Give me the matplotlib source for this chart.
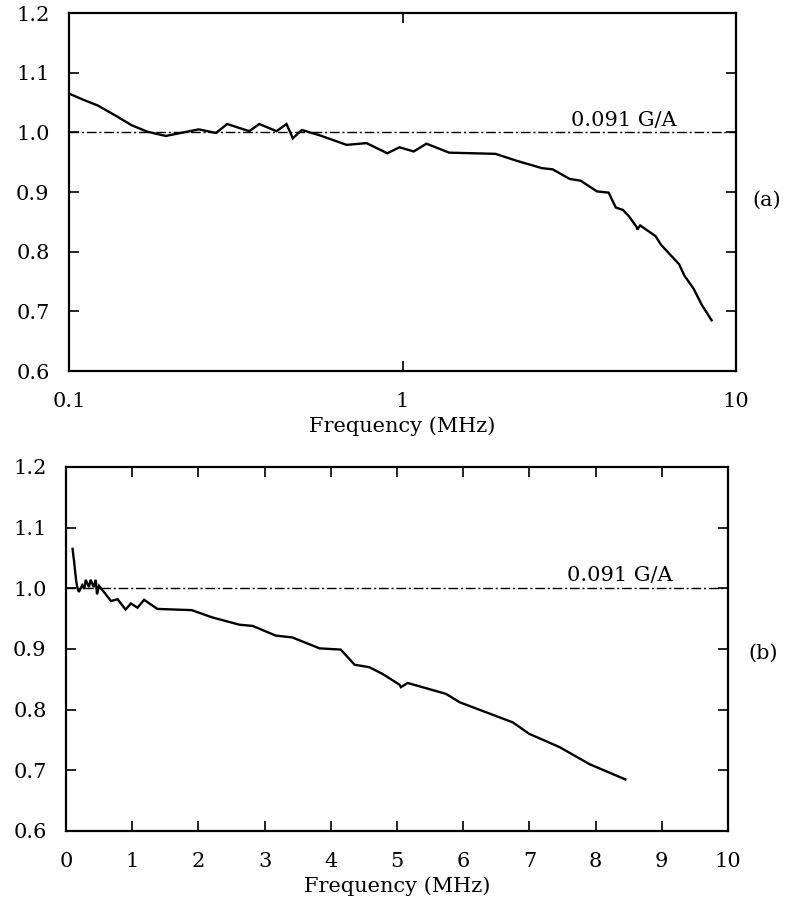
import matplotlib
matplotlib.use("Agg")
import matplotlib.pyplot as plt
from matplotlib.ticker import NullLocator

plt.rcParams['font.family'] = ['DejaVu Serif']

# Data (normalized response vs frequency)
freq = [0.1, 0.11, 0.122, 0.138, 0.154, 0.172, 0.195, 0.245, 0.276, 0.298,
        0.347, 0.372, 0.419, 0.449, 0.469, 0.499, 0.565, 0.68, 0.78, 0.9,
        0.98, 1.08, 1.18, 1.38, 1.9, 2.21, 2.62, 2.82, 3.17, 3.42,
        3.83, 4.15, 4.36, 4.58, 4.78, 5.04, 5.06, 5.16, 5.74, 5.95,
        6.75, 7.0, 7.46, 7.91, 8.45]
resp = [1.065, 1.055, 1.045, 1.028, 1.012, 1.001, 0.994, 1.005, 0.999, 1.014,
        1.002, 1.014, 1.002, 1.014, 0.990, 1.004, 0.995, 0.979, 0.982, 0.965,
        0.975, 0.968, 0.981, 0.966, 0.964, 0.952, 0.940, 0.938, 0.922, 0.919,
        0.901, 0.899, 0.874, 0.870, 0.859, 0.841, 0.837, 0.844, 0.826, 0.812,
        0.779, 0.760, 0.738, 0.710, 0.685]
reference_level = 1.0
reference_label = "0.091 G/A"

yticks = [0.6, 0.7, 0.8, 0.9, 1.0, 1.1, 1.2]
ytick_labels = ["0.6", "0.7", "0.8", "0.9", "1.0", "1.1", "1.2"]
xticks_log = [0.1, 1, 10]
xtick_labels_log = ["0.1", "1", "10"]
xticks_lin = [0, 1, 2, 3, 4, 5, 6, 7, 8, 9, 10]
xtick_labels_lin = [str(v) for v in xticks_lin]
xlabel = "Frequency (MHz)"

FS = 15
fig = plt.figure(figsize=(7.95, 9.06), dpi=100)
ax1 = fig.add_axes([0.0868, 0.5905, 0.8390, 0.3951])
ax2 = fig.add_axes([0.0830, 0.0828, 0.8327, 0.4018])

dash = (0, (7, 2, 1.5, 2))

for ax in (ax1, ax2):
    ax.plot(freq, resp, color='black', lw=1.7, solid_joinstyle='miter')
    ax.axhline(reference_level, color='black', lw=1.0, linestyle=dash)
    ax.set_ylim(0.6, 1.2)
    ax.set_yticks(yticks)
    ax.set_yticklabels(ytick_labels)
    ax.tick_params(axis='both', which='major', direction='in', length=7,
                   width=1.2, top=True, right=True, labelsize=FS)
    ax.tick_params(axis='y', pad=14)
    ax.tick_params(axis='x', pad=15)
    for s in ax.spines.values():
        s.set_linewidth(1.6)
    ax.set_xlabel(xlabel, fontsize=FS, labelpad=4)

ax1.set_xscale('log')
ax1.set_xlim(0.1, 10)
ax1.set_xticks(xticks_log)
ax1.set_xticklabels(xtick_labels_log)
ax1.xaxis.set_minor_locator(NullLocator())
ax1.text(3.2, 1.004, reference_label, fontsize=FS, ha='left', va='bottom')

ax2.set_xlim(0, 10)
ax2.set_xticks(xticks_lin)
ax2.set_xticklabels(xtick_labels_lin)
ax2.text(7.57, 1.006, reference_label, fontsize=FS, ha='left', va='bottom')

fig.text(0.965, 0.779, "(a)", fontsize=FS, ha='center', va='center')
fig.text(0.960, 0.279, "(b)", fontsize=FS, ha='center', va='center')

fig.savefig("out.png", dpi=100)
